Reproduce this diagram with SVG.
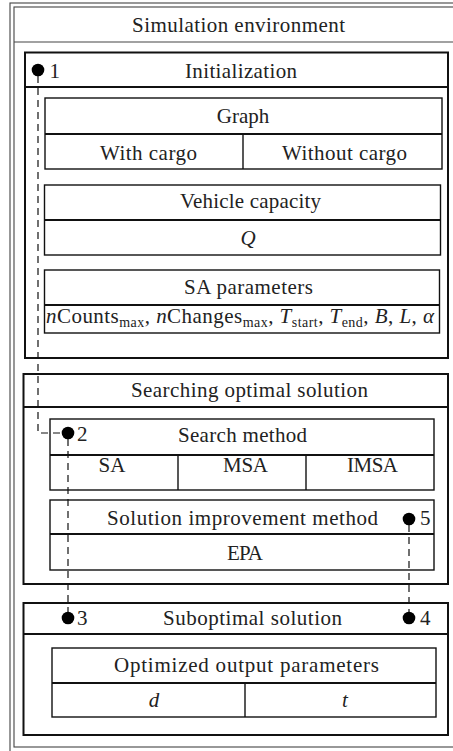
<svg xmlns="http://www.w3.org/2000/svg" width="453" height="751" viewBox="0 0 453 751">
<style>
  .frame { fill: none; stroke: #444; stroke-width: 1.1; }
  .main { fill: #fff; stroke: #111; stroke-width: 2; }
  .box { fill: #fff; stroke: #111; stroke-width: 1.4; }
  .sep { stroke: #111; stroke-width: 1.8; }
  .div { stroke: #111; stroke-width: 1.4; }
  .t { font-family: "Liberation Serif", "Times New Roman", serif; font-size: 21px; fill: #222; text-anchor: middle; }
  .n { font-family: "Liberation Serif", "Times New Roman", serif; font-size: 21px; fill: #222; }
  .i { font-style: italic; }
  .dash { fill: none; stroke: #111; stroke-width: 1.2; stroke-dasharray: 7 5; }
  .dot { fill: #000; }
</style>
<rect x="0" y="0" width="453" height="751" fill="#fff"/>
<g id="simulation-environment">
  <rect class="frame" x="10" y="3" width="470" height="770"/>
  <rect class="frame" x="14" y="7" width="460" height="740"/>
  <line class="frame" x1="14" y1="42" x2="474" y2="42"/>
  <text class="t" x="238.5" y="32" textLength="213" lengthAdjust="spacing">Simulation environment</text>
</g>
<g id="initialization">
  <rect class="main" x="25" y="52.5" width="423" height="305.5"/>
  <line class="sep" x1="25" y1="87" x2="448" y2="87"/>
  <text class="t" x="241" y="78" textLength="112" lengthAdjust="spacing">Initialization</text>
</g>
<g id="graph">
  <rect class="box" x="45" y="98" width="397" height="71"/>
  <line class="sep" x1="45" y1="134" x2="442" y2="134"/>
  <line class="div" x1="243" y1="134" x2="243" y2="169"/>
  <text class="t" x="243" y="123">Graph</text>
  <text class="t" x="148.5" y="160" textLength="97" lengthAdjust="spacing">With cargo</text>
  <text class="t" x="344.5" y="160" textLength="125" lengthAdjust="spacing">Without cargo</text>
</g>
<g id="vehicle-capacity">
  <rect class="box" x="44.5" y="185" width="396" height="70"/>
  <line class="sep" x1="44.5" y1="220" x2="440.5" y2="220"/>
  <text class="t" x="250.5" y="208" textLength="141" lengthAdjust="spacing">Vehicle capacity</text>
  <text class="t i" x="248" y="245">Q</text>
</g>
<g id="sa-parameters">
  <rect class="box" x="44.5" y="270" width="395" height="63"/>
  <line class="sep" x1="44.5" y1="305" x2="439.5" y2="305"/>
  <text class="t" x="248.5" y="294" textLength="129" lengthAdjust="spacing">SA parameters</text>
  <text class="n" x="46" y="323" textLength="388" lengthAdjust="spacing"><tspan class="i">n</tspan>Counts<tspan font-size="14" dy="4">max</tspan><tspan dy="-4">, </tspan><tspan class="i">n</tspan>Changes<tspan font-size="14" dy="4">max</tspan><tspan dy="-4">, </tspan><tspan class="i">T</tspan><tspan font-size="14" dy="4">start</tspan><tspan dy="-4">, </tspan><tspan class="i">T</tspan><tspan font-size="14" dy="4">end</tspan><tspan dy="-4">, </tspan><tspan class="i">B</tspan>, <tspan class="i">L</tspan>, <tspan class="i">α</tspan></text>
</g>
<g id="searching-optimal-solution">
  <rect class="main" x="23.5" y="374" width="424.5" height="210"/>
  <line class="sep" x1="23.5" y1="407" x2="448" y2="407"/>
  <text class="t" x="249.5" y="397" textLength="237" lengthAdjust="spacing">Searching optimal solution</text>
</g>
<g id="search-method">
  <rect class="box" x="50" y="419" width="384" height="71"/>
  <line class="sep" x1="50" y1="455" x2="434" y2="455"/>
  <line class="div" x1="178" y1="455" x2="178" y2="490"/>
  <line class="div" x1="306" y1="455" x2="306" y2="490"/>
  <text class="t" x="242.5" y="442" textLength="129" lengthAdjust="spacing">Search method</text>
  <text class="t" x="112" y="472">SA</text>
  <text class="t" x="245.5" y="472" textLength="45" lengthAdjust="spacing">MSA</text>
  <text class="t" x="372.5" y="472" textLength="51" lengthAdjust="spacing">IMSA</text>
</g>
<g id="solution-improvement">
  <rect class="box" x="50" y="500" width="384" height="70"/>
  <line class="sep" x1="50" y1="534" x2="434" y2="534"/>
  <text class="t" x="242.5" y="525" textLength="271" lengthAdjust="spacing">Solution improvement method</text>
  <text class="t" x="245" y="560" textLength="36" lengthAdjust="spacing">EPA</text>
</g>
<g id="suboptimal-solution">
  <rect class="main" x="23.5" y="603" width="424.5" height="132"/>
  <line class="sep" x1="23.5" y1="634" x2="448" y2="634"/>
  <text class="t" x="252.5" y="625" textLength="179" lengthAdjust="spacing">Suboptimal solution</text>
</g>
<g id="optimized-output">
  <rect class="box" x="52" y="648" width="384" height="69"/>
  <line class="sep" x1="52" y1="683" x2="436" y2="683"/>
  <line class="div" x1="245" y1="683" x2="245" y2="717"/>
  <text class="t" x="246.5" y="672" textLength="265" lengthAdjust="spacing">Optimized output parameters</text>
  <text class="t i" x="154" y="707">d</text>
  <text class="t i" x="345" y="707">t</text>
</g>
<g id="connectors">
  <path class="dash" d="M38,76 V433 H62"/>
  <path class="dash" d="M68,439 V612"/>
  <path class="dash" d="M409,525 V612"/>
</g>
<g id="markers">
  <circle class="dot" cx="38" cy="70" r="6.3"/>
  <text class="n" x="49.5" y="78">1</text>
  <circle class="dot" cx="68" cy="433" r="6.3"/>
  <text class="n" x="77" y="441">2</text>
  <circle class="dot" cx="68" cy="618" r="6.3"/>
  <text class="n" x="77" y="625">3</text>
  <circle class="dot" cx="409" cy="618" r="6.3"/>
  <text class="n" x="420" y="625">4</text>
  <circle class="dot" cx="409" cy="519" r="6.3"/>
  <text class="n" x="420" y="525">5</text>
</g>
</svg>
